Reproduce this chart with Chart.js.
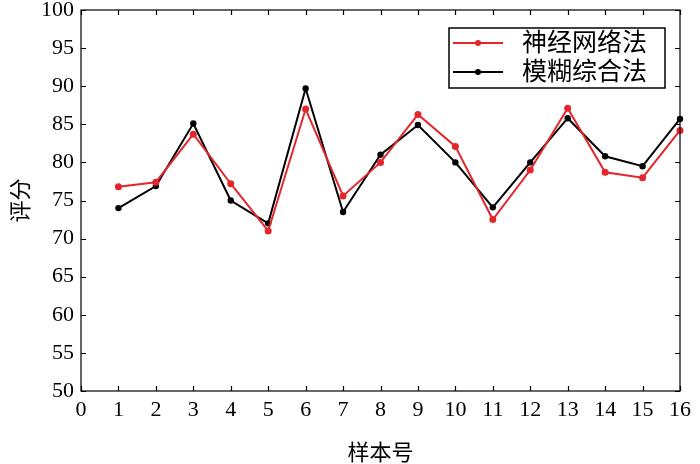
<!DOCTYPE html>
<html>
<head>
<meta charset="utf-8">
<script src="https://cdn.jsdelivr.net/npm/chart.js@4/dist/chart.umd.min.js"></script>
<style>
  body { margin: 0; background: #fff; }
  #wrap { width: 700px; height: 464px; }
</style>
</head>
<body>
<div id="wrap"><canvas id="c"></canvas></div>
<script>
// sample numbers 1..16
const samples = [1, 2, 3, 4, 5, 6, 7, 8, 9, 10, 11, 12, 13, 14, 15, 16];
// scores
const neuralNet = [76.8, 77.4, 83.7, 77.2, 71.0, 87.0, 75.6, 80.0, 86.3, 82.1, 72.5, 79.0, 87.1, 78.7, 78.0, 84.2];
const fuzzyEval = [74.0, 76.9, 85.1, 75.0, 72.0, 89.7, 73.5, 81.0, 84.9, 80.0, 74.1, 80.0, 85.8, 80.8, 79.5, 85.7];
const seriesNames = ['神经网络法', '模糊综合法'];
const seriesColors = ['#e3262b', '#000000'];

const FONT = "'Liberation Serif', 'Noto Sans CJK SC', serif";

function toPoints(vals) {
    return vals.map((v, i) => ({ x: samples[i], y: v }));
}

// border box, inward ticks on all four sides, legend inside the plot
const framePlugin = {
    id: 'frame',
    afterDraw(chart) {
        const ctx = chart.ctx;
        const a = chart.chartArea;
        const xs = chart.scales.x, ys = chart.scales.y;
        const len = 5;
        ctx.save();
        ctx.strokeStyle = '#000';
        ctx.lineWidth = 1.2;
        ctx.strokeRect(a.left, a.top, a.right - a.left, a.bottom - a.top);
        ctx.beginPath();
        xs.ticks.forEach(t => {
            const px = Math.round(xs.getPixelForValue(t.value)) + 0.5;
            ctx.moveTo(px, a.bottom); ctx.lineTo(px, a.bottom - len);
            ctx.moveTo(px, a.top); ctx.lineTo(px, a.top + len);
        });
        ys.ticks.forEach(t => {
            const py = Math.round(ys.getPixelForValue(t.value)) + 0.5;
            ctx.moveTo(a.left, py); ctx.lineTo(a.left + len, py);
            ctx.moveTo(a.right, py); ctx.lineTo(a.right - len, py);
        });
        ctx.stroke();

        // legend
        const bx = 449, by = 28, bw = 216, bh = 60;
        ctx.fillStyle = '#fff';
        ctx.fillRect(bx, by, bw, bh);
        ctx.lineWidth = 1.5;
        ctx.strokeRect(bx, by, bw, bh);
        chart.data.datasets.forEach((ds, i) => {
            const y = by + 15 + i * 29;
            ctx.strokeStyle = ds.borderColor;
            ctx.lineWidth = 2;
            ctx.beginPath();
            ctx.moveTo(bx + 4, y); ctx.lineTo(bx + 54, y);
            ctx.stroke();
            ctx.fillStyle = ds.borderColor;
            ctx.beginPath();
            ctx.arc(bx + 29, y, 3, 0, Math.PI * 2);
            ctx.fill();
            ctx.fillStyle = '#000';
            ctx.font = "25px " + FONT;
            ctx.textBaseline = 'middle';
            ctx.textAlign = 'left';
            ctx.fillText(ds.label, bx + 73, y + 1);
        });
        ctx.restore();
    }
};

new Chart(document.getElementById('c'), {
    type: 'line',
    data: {
        datasets: [
            {
                label: seriesNames[0],
                data: toPoints(neuralNet),
                borderColor: seriesColors[0],
                backgroundColor: seriesColors[0],
                borderWidth: 2,
                pointRadius: 3.5,
                pointBorderWidth: 0,
                tension: 0,
                clip: false
            },
            {
                label: seriesNames[1],
                data: toPoints(fuzzyEval),
                borderColor: seriesColors[1],
                backgroundColor: seriesColors[1],
                borderWidth: 2,
                pointRadius: 3.2,
                pointBorderWidth: 0,
                tension: 0,
                clip: false
            }
        ]
    },
    options: {
        responsive: true,
        maintainAspectRatio: false,
        animation: false,
        layout: { padding: { top: 0, right: 20, left: 0, bottom: 0 } },
        scales: {
            x: {
                type: 'linear',
                min: 0,
                max: 16,
                grid: { display: false, drawTicks: false },
                border: { display: false },
                ticks: {
                    stepSize: 1,
                    color: '#000',
                    font: { family: FONT, size: 22 },
                    padding: 6,
                    maxRotation: 0,
                    autoSkip: false
                },
                title: {
                    display: true,
                    text: '样本号',
                    color: '#000',
                    font: { family: FONT, size: 22 },
                    padding: { top: 10, bottom: -3 }
                },
                afterFit(scale) { scale.height = 73; }
            },
            y: {
                min: 50,
                max: 100,
                grid: { display: false, drawTicks: false },
                border: { display: false },
                ticks: {
                    stepSize: 5,
                    color: '#000',
                    font: { family: FONT, size: 22 },
                    padding: 7
                },
                title: {
                    display: true,
                    text: '评分',
                    color: '#000',
                    font: { family: FONT, size: 22 },
                    padding: { top: 9, bottom: 4 }
                },
                afterFit(scale) {
                    scale.width = 81;
                    scale.paddingTop = 10;
                    scale.paddingBottom = 0;
                }
            }
        },
        plugins: {
            legend: { display: false },
            tooltip: { enabled: false }
        }
    },
    plugins: [framePlugin]
});
</script>
</body>
</html>
